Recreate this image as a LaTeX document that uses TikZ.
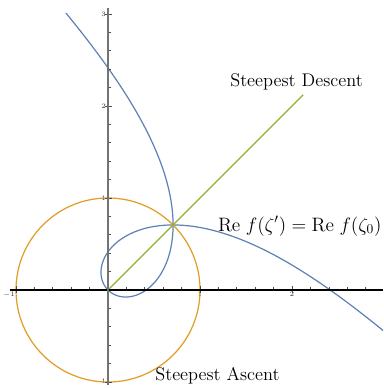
\documentclass[tikz,border=0pt]{standalone}
\usepackage{amsmath}
\usepackage{tikz}
\usetikzlibrary{positioning}
\definecolor{lvlblue}{HTML}{5E81B5}
\definecolor{ascorange}{HTML}{E19C24}
\definecolor{descgreen}{HTML}{8FB032}

\begin{document}
\begin{tikzpicture}[
  x=2.4cm, y=2.4cm,
  axh/.style={draw=black, line width=1.1pt},
  axv/.style={draw=black!55, line width=1.6pt},
  tk/.style={draw=black!70, line width=0.5pt},
  tlab/.style={font=\fontsize{4}{4}\selectfont, text=black!80, inner sep=0.6pt},
  lvl/.style={draw=lvlblue, line width=0.9pt},
  asc/.style={draw=ascorange, line width=0.9pt},
  dsc/.style={draw=descgreen, line width=0.9pt},
  lab/.style={font=\fontsize{13.6}{16}\selectfont, inner sep=0pt, anchor=base west},
]
\useasboundingbox (-1.174,-1.065) rectangle (2.989,3.152);
\coordinate (orig) at (0,0);
\coordinate (zeta0) at (45:1);
\coordinate (sdtip) at (45:3);

% tick labels (partly hidden by the circle)
\node[tlab, anchor=north east] (xm1) at (-1,-0.01) {$-1$};
\node[tlab, anchor=north] (xp1) at (1,-0.01) {$1$};
\node[tlab, anchor=north] (xp2) at (2,-0.01) {$2$};
\node[tlab, anchor=east] (ym1) at (-0.01,-1) {$-1$};
\node[tlab, anchor=east] (yp1) at (-0.01,1) {$1$};
\node[tlab, anchor=east] (yp2) at (-0.01,2) {$2$};
\node[tlab, anchor=east] (yp3) at (-0.01,3) {$3$};

% level curve Re f = Re f(zeta0), f = e^{-i pi/4} z + e^{i pi/4}/z
\begin{scope}
  \clip (-1.1,-1.05) rectangle (2.99,3.0);
  \draw[lvl] plot[domain=-89.8:72, samples=240, smooth, variable=\t]
     ({(1+sin(\t))/cos(\t)*cos(\t+45)}, {(1+sin(\t))/cos(\t)*sin(\t+45)});
  \draw[lvl] plot[domain=-72:89.8, samples=240, smooth, variable=\t]
     ({(1-sin(\t))/cos(\t)*cos(\t+45)}, {(1-sin(\t))/cos(\t)*sin(\t+45)});
\end{scope}

\draw[asc] (orig) circle[radius=1];
\draw[dsc] (orig) -- (sdtip);

% axes with ticks every 0.2
\foreach \i in {-5,...,14}{
  \draw[tk] (\i/5,0) -- ++(0,2pt);
}
\foreach \i in {-5,...,15}{
  \draw[tk] (0,\i/5) -- ++(2pt,0);
}
\foreach \i in {-1,1,2}{ \draw[tk] (\i,-2pt) -- (\i,3pt); }
\foreach \i in {-1,1,2,3}{ \draw[tk] (-2pt,\i) -- (3pt,\i); }
\draw[axh] (-1.065,0) -- (2.99,0);
\draw[axv] (0,-1.03) -- (0,3.065);

\node[lab] (sdlbl) at (1.326,2.217) {Steepest Descent};
\node[lab, anchor=base east] (relbl) at (2.975,0.641)
   {$\mathrm{Re}\;f(\zeta') = \mathrm{Re}\;f(\zeta_0)$};
\node[lab] (salbl) at (0.511,-0.986) {Steepest Ascent};
\end{tikzpicture}
\end{document}
